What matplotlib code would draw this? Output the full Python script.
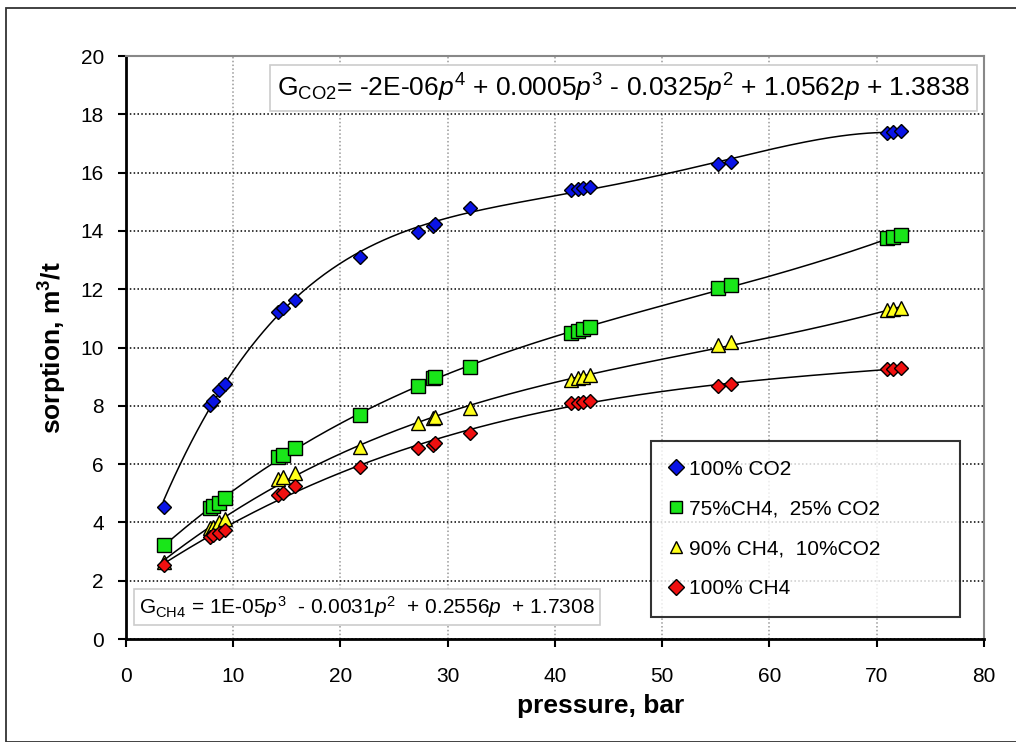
import matplotlib
matplotlib.use('Agg')
import matplotlib.pyplot as plt
import numpy as np
from matplotlib.patches import Rectangle

plt.rcParams['font.family'] = ['Liberation Sans', 'DejaVu Sans']
plt.rcParams['mathtext.fontset'] = 'custom'
plt.rcParams['mathtext.rm'] = 'Liberation Sans'
plt.rcParams['mathtext.it'] = 'Liberation Sans:italic'
plt.rcParams['mathtext.bf'] = 'Liberation Sans:bold'

# pressure, bar (same pressure steps for every gas mixture)
pressure = [3.5, 7.8, 8.1, 8.7, 9.2, 14.2, 14.6, 15.8, 21.8, 27.2, 28.6,
            28.8, 32.1, 41.5, 42.1, 42.6, 43.3, 55.2, 56.4, 71.0, 71.5, 72.3]

# sorption, m3/t
co2_100 = [4.54, 8.03, 8.18, 8.54, 8.75, 11.23, 11.35, 11.63, 13.11, 13.97, 14.17,
           14.24, 14.78, 15.40, 15.43, 15.46, 15.52, 16.29, 16.37, 17.35, 17.38, 17.43]
ch4_75 = [3.22, 4.48, 4.56, 4.65, 4.83, 6.23, 6.31, 6.54, 7.68, 8.68, 8.94,
          8.98, 9.34, 10.49, 10.57, 10.62, 10.71, 12.03, 12.14, 13.75, 13.78, 13.86]
ch4_90 = [2.65, 3.80, 3.85, 4.02, 4.11, 5.48, 5.55, 5.71, 6.60, 7.42, 7.57,
          7.60, 7.91, 8.88, 8.94, 8.98, 9.05, 10.10, 10.20, 11.29, 11.31, 11.34]
ch4_100 = [2.54, 3.51, 3.57, 3.65, 3.74, 4.94, 5.00, 5.25, 5.91, 6.54, 6.66,
           6.71, 7.06, 8.09, 8.11, 8.14, 8.18, 8.68, 8.75, 9.25, 9.25, 9.29]

series = [
    ('100% CO2', co2_100, 'D', '#0a14e6', 4, 7.5),
    ('75%CH4,  25% CO2', ch4_75, 's', '#19e619', 3, 9.5),
    ('90% CH4,  10%CO2', ch4_90, '^', '#ffff1a', 3, 9.5),
    ('100% CH4', ch4_100, 'D', '#f01010', 3, 7.5),
]

fig = plt.figure(figsize=(10.16, 7.42), dpi=100)
ax = fig.add_axes([0.124, 0.1388, 0.8445, 0.7857])

p = np.array(pressure)
pp = np.linspace(p.min(), p.max(), 400)
handles = []
for label, vals, mk, col, deg, ms in series:
    coef = np.polyfit(p, vals, deg)
    ax.plot(pp, np.polyval(coef, pp), color='black', lw=1.1, zorder=3)
    h, = ax.plot(p, vals, ls='none', marker=mk, ms=ms, mfc=col, mec='black',
                 mew=1.0, zorder=4, label=label)
    handles.append(h)

ax.set_xlim(0, 80)
ax.set_ylim(0, 20)
ax.set_xticks(np.arange(0, 81, 10))
ax.set_yticks(np.arange(0, 21, 2))

ax.yaxis.grid(True, color='black', ls=(0, (1, 1.5)), lw=1.1)
ax.xaxis.grid(True, color='#999999', ls=(0, (1, 1.5)), lw=1.1)
ax.set_axisbelow(True)

for s in ['top', 'right']:
    ax.spines[s].set_color('#888888')
    ax.spines[s].set_linewidth(1.5)
for s in ['left', 'bottom']:
    ax.spines[s].set_color('black')
    ax.spines[s].set_linewidth(2)

ax.tick_params(axis='both', direction='out', length=6, width=1.5, labelsize=15)
ax.tick_params(axis='x', pad=14)
ax.tick_params(axis='y', pad=10)

ax.set_xlabel('pressure, bar', fontsize=19, fontweight='bold', labelpad=4)
ax.xaxis.set_label_coords(0.553, -0.095)
ax.set_ylabel(r'sorption, m$^{\mathbf{3}}$/t', fontsize=19, fontweight='bold', labelpad=8)

ax.text(0.176, 0.945,
        r'G$_{\mathrm{CO2}}$= -2E-06$p^4$ + 0.0005$p^3$ - 0.0325$p^2$ + 1.0562$p$ + 1.3838',
        transform=ax.transAxes, fontsize=19, va='center', ha='left',
        bbox=dict(boxstyle='square,pad=0.25', fc='white', ec='#cccccc', lw=1.2))
ax.text(0.015, 0.055,
        r'G$_{\mathrm{CH4}}$ = 1E-05$p^3$  - 0.0031$p^2$  + 0.2556$p$  + 1.7308',
        transform=ax.transAxes, fontsize=15, va='center', ha='left',
        bbox=dict(boxstyle='square,pad=0.25', fc='white', ec='#cccccc', lw=1.2))

leg = ax.legend(handles=handles, loc='lower left', bbox_to_anchor=(0.612, 0.038, 0.36, 0.27),
                mode='expand', fontsize=15, frameon=True, fancybox=False,
                edgecolor='black', borderpad=0.9, labelspacing=1.0, handlelength=0.6,
                handletextpad=0.3, borderaxespad=0)
leg.get_frame().set_linewidth(1.5)
leg.set_zorder(6)
for lh in leg.legend_handles:
    lh.set_markersize(8)

fig.patches.append(Rectangle((0.006, 0.0), 1.2, 0.989, transform=fig.transFigure,
                             fill=False, ec='#333333', lw=1.3))

fig.savefig('out.png', dpi=100)
